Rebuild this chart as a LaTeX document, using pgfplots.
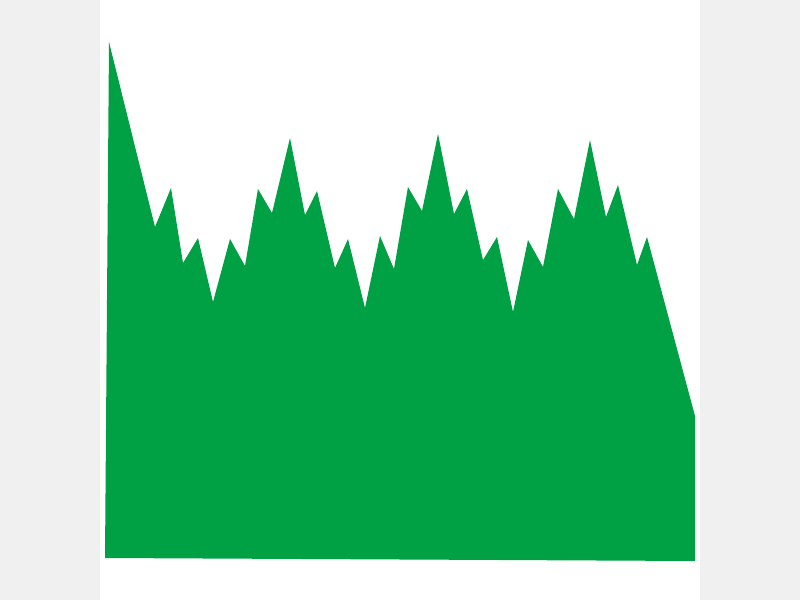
\documentclass[border=0pt]{standalone}
\usepackage{pgfplots}
\pgfplotsset{compat=1.18}
\definecolor{bggray}{RGB}{240,240,240}
\definecolor{grassgreen}{RGB}{0,160,68}
\begin{document}
\begin{tikzpicture}
\begin{axis}[
  scale only axis, width=800pt, height=600pt,
  xmin=0, xmax=800, ymin=0, ymax=600,
  hide axis, clip=false,
]
\fill[bggray] (axis cs:0,0) rectangle (axis cs:800,600);
\fill[white] (axis cs:100,0) rectangle (axis cs:700,600);
\addplot[fill=grassgreen, draw=none] coordinates {
(105,42) (109,558) (155,373) (171,412) (183,337) (198,362) (213,298)
(230,361) (245,334) (258,411) (272,387) (290,462) (305,385) (317,409)
(335,332) (348,361) (365,292) (380,364) (394,331) (408,413) (422,389)
(438,466) (454,386) (467,411) (483,340) (497,363) (513,288) (528,360)
(543,333) (558,411) (574,381) (590,460) (606,383) (618,415) (637,335)
(647,363) (695,184) (695,39)
} -- cycle;
\end{axis}
\end{tikzpicture}
\end{document}
